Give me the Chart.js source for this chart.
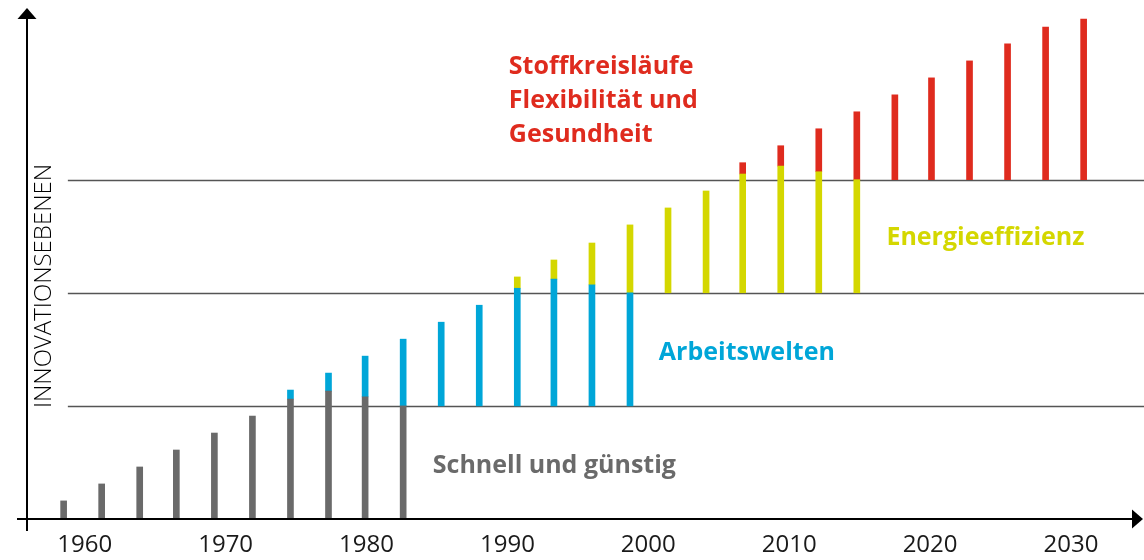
<!DOCTYPE html>
<html lang="de">
<head>
<meta charset="utf-8">
<title>Innovationsebenen</title>
<script src="https://cdn.jsdelivr.net/npm/chart.js@4.4.1/dist/chart.umd.min.js"></script>
<style>
  html, body { margin: 0; padding: 0; background: #fff; }
  #wrap { width: 1144px; height: 560px; }
</style>
</head>
<body>
<div id="wrap"><canvas id="chart" width="1144" height="560"></canvas></div>
<script>
  // bar positions (years) and year ticks
  const barYears = [1958.5, 1961.2, 1963.9, 1966.5, 1969.2, 1971.9, 1974.6, 1977.3, 1979.9, 1982.6,
    1985.3, 1988.0, 1990.7, 1993.3, 1996.0, 1998.7, 2001.4, 2004.1, 2006.7, 2009.4,
    2012.1, 2014.8, 2017.5, 2020.1, 2022.8, 2025.5, 2028.2, 2030.9];
  const yearTicks = [1960, 1970, 1980, 1990, 2000, 2010, 2020, 2030];

  // top of each segment, in "innovation levels" (null = no segment)
  const grayTop = [0.16, 0.31, 0.46, 0.61, 0.76, 0.91, 1.06, 1.13, 1.08, 1.00,
    null, null, null, null, null, null, null, null, null, null,
    null, null, null, null, null, null, null, null];
  const blueTop = [null, null, null, null, null, null, 1.14, 1.29, 1.44, 1.59,
    1.74, 1.89, 2.04, 2.12, 2.07, 2.00, null, null, null, null,
    null, null, null, null, null, null, null, null];
  const yellowTop = [null, null, null, null, null, null, null, null, null, null,
    null, null, 2.14, 2.29, 2.44, 2.60, 2.75, 2.90, 3.05, 3.12,
    3.07, 3.00, null, null, null, null, null, null];
  const redTop = [null, null, null, null, null, null, null, null, null, null,
    null, null, null, null, null, null, null, null, 3.15, 3.30,
    3.45, 3.60, 3.75, 3.90, 4.05, 4.20, 4.35, 4.42];
  const levels = [1, 2, 3];

  const colors = { gray: '#6a6a6a', blue: '#00a6d8', yellow: '#d4d700', red: '#df2b1e' };

  const annotations = [
    { text: 'Stoffkreisläufe', x: 1990.1, y: 3.93, color: colors.red },
    { text: 'Flexibilität und', x: 1990.1, y: 3.63, color: colors.red },
    { text: 'Gesundheit', x: 1990.1, y: 3.33, color: colors.red },
    { text: 'Energieeffizienz', x: 2016.9, y: 2.42, color: colors.yellow },
    { text: 'Arbeitswelten', x: 2000.75, y: 1.41, color: colors.blue },
    { text: 'Schnell und günstig', x: 1984.7, y: 0.41, color: colors.gray }
  ];

  function segments(tops, below, floor) {
    const out = [];
    tops.forEach(function (t, i) {
      if (t === null) return;
      const lo = below && below[i] !== null ? below[i] : floor;
      out.push({ x: barYears[i], y: [lo, t] });
    });
    return out;
  }

  function barSet(label, data, color) {
    return {
      label: label,
      data: data,
      backgroundColor: color,
      borderWidth: 0,
      barThickness: 6,
      grouped: false
    };
  }

  const decor = {
    id: 'decor',
    beforeDatasetsDraw: function (chart) {
      const ctx = chart.ctx;
      const x = chart.scales.x, y = chart.scales.y;
      ctx.save();
      ctx.strokeStyle = '#555';
      ctx.lineWidth = 1.5;
      levels.forEach(function (lv) {
        const py = Math.round(y.getPixelForValue(lv)) + 0.5;
        ctx.beginPath();
        ctx.moveTo(x.getPixelForValue(1958.8), py);
        ctx.lineTo(chart.width, py);
        ctx.stroke();
      });
      ctx.restore();
    },
    afterDatasetsDraw: function (chart) {
      const ctx = chart.ctx;
      const area = chart.chartArea;
      const x = chart.scales.x, y = chart.scales.y;
      const y0 = y.getPixelForValue(0);
      ctx.save();
      ctx.strokeStyle = '#000';
      ctx.fillStyle = '#000';
      ctx.lineWidth = 2;
      // x axis
      ctx.beginPath();
      ctx.moveTo(area.left - 10, y0);
      ctx.lineTo(area.right - 4, y0);
      ctx.stroke();
      ctx.beginPath();
      ctx.moveTo(area.right + 3, y0);
      ctx.lineTo(area.right - 8, y0 - 9.5);
      ctx.lineTo(area.right - 8, y0 + 9.5);
      ctx.closePath();
      ctx.fill();
      // y axis
      ctx.beginPath();
      ctx.moveTo(area.left, y0 + 12);
      ctx.lineTo(area.left, area.top + 6);
      ctx.stroke();
      ctx.beginPath();
      ctx.moveTo(area.left, area.top - 2);
      ctx.lineTo(area.left - 9.5, area.top + 9);
      ctx.lineTo(area.left + 9.5, area.top + 9);
      ctx.closePath();
      ctx.fill();

      // axis title
      ctx.translate(x.getPixelForValue(1957.15), y.getPixelForValue(2.06));
      ctx.rotate(-Math.PI / 2);
      ctx.font = '300 24px "Open Sans"';
      ctx.textAlign = 'center';
      ctx.textBaseline = 'middle';
      ctx.fillText('INNOVATIONSEBENEN', 0, 0);
      ctx.restore();

      // level labels
      ctx.save();
      ctx.font = 'bold 25px "Open Sans"';
      ctx.textAlign = 'left';
      ctx.textBaseline = 'alphabetic';
      annotations.forEach(function (a) {
        ctx.fillStyle = a.color;
        ctx.fillText(a.text, x.getPixelForValue(a.x), y.getPixelForValue(a.y));
      });
      ctx.restore();
    }
  };

  new Chart(document.getElementById('chart'), {
    type: 'bar',
    data: {
      datasets: [
        barSet('Schnell und günstig', segments(grayTop, null, 0), colors.gray),
        barSet('Arbeitswelten', segments(blueTop, grayTop, levels[0]), colors.blue),
        barSet('Energieeffizienz', segments(yellowTop, blueTop, levels[1]), colors.yellow),
        barSet('Stoffkreisläufe, Flexibilität und Gesundheit', segments(redTop, yellowTop, levels[2]), colors.red)
      ]
    },
    options: {
      responsive: false,
      animation: false,
      layout: { padding: { left: 27, right: 4, top: 10, bottom: 0 } },
      plugins: { legend: { display: false }, tooltip: { enabled: false } },
      scales: {
        x: {
          type: 'linear',
          offset: false,
          min: 1955.9,
          max: 2034.9,
          grid: { display: false, drawTicks: false, tickLength: 0 },
          border: { display: false },
          afterBuildTicks: function (scale) {
            scale.ticks = yearTicks.map(function (v) { return { value: v }; });
          },
          afterFit: function (scale) {
            scale.height = 41;
          },
          ticks: {
            includeBounds: false,
            autoSkip: false,
            maxRotation: 0,
            padding: 12,
            color: '#1a1a1a',
            font: { family: 'Open Sans', size: 24 },
            callback: function (v) { return String(v); }
          }
        },
        y: {
          display: false,
          min: 0,
          max: 4.5
        }
      }
    },
    plugins: [decor]
  });
</script>
</body>
</html>
